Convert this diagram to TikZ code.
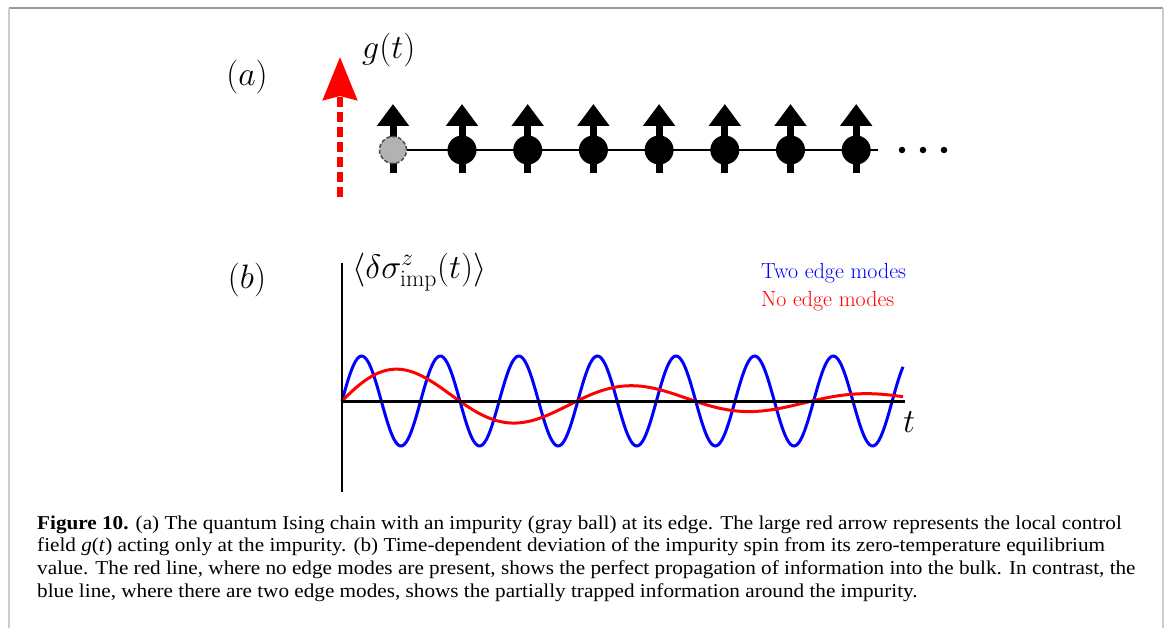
\RequirePackage{fix-cm}
\documentclass[tikz,border=0pt]{standalone}
\usepackage{fontspec}
\newfontfamily\capfont[FakeStretch=1.08]{Liberation Serif}
\usetikzlibrary{arrows.meta,positioning}

\begin{document}
\begin{tikzpicture}[x=1bp,y=-1bp,
    big label/.style={font=\fontsize{34}{40}\selectfont,inner sep=0pt},
    legend/.style={font=\fontsize{22}{26}\selectfont,anchor=base west,inner sep=0pt},
    spin ball/.style={circle,fill=black,minimum size=29bp,inner sep=0pt},
    impurity ball/.style={circle,fill=gray!60,draw=black!70,dash pattern=on 4bp off 2bp,line width=1.5bp,minimum size=27bp,inner sep=0pt},
    spin arrow/.style={line width=7bp,-{Triangle[width=31bp,length=22bp]}},
    field arrow/.style={red,line width=6bp,dash pattern=on 10bp off 5bp,-{Stealth[width=34bp,length=43bp,inset=4bp]}},
    chain/.style={line width=1.5bp},
    curve/.style={line width=3bp}]
  \useasboundingbox (0,0) rectangle (1166,628);
  % frame
  \draw[gray!80,line width=2bp] (9,8) -- (1163,8);
  \draw[gray!40,line width=2bp] (9,8) -- (9,628) (1163,8) -- (1163,628);

  % panel (a)
  \node[big label] (lab a) at (247,77) {$(a)$};
  \coordinate (field tail) at (340,197);
  \coordinate (field tip) at (340,57);
  \draw[field arrow] (field tail) -- (field tip);
  \node[big label,anchor=west] (g label) at (362,50) {$g(t)$};

  \foreach \n/\x in {0/393,1/462,2/527.7,3/593.4,4/659.1,5/724.8,6/790.5,7/856.2}{
    \coordinate (tail\n) at (\x,173);
    \coordinate (tip\n) at (\x,104);
    \draw[spin arrow] (tail\n) -- (tip\n);
  }
  \coordinate (chain end) at (878,150);
  \node[impurity ball] (s0) at (393,150) {};
  \draw[chain] (s0.east) -- (chain end);
  \foreach \n/\x in {1/462,2/527.7,3/593.4,4/659.1,5/724.8,6/790.5,7/856.2}
    \node[spin ball] (s\n) at (\x,150) {};
  \foreach \n/\x in {1/902,2/923,3/944}
    \node[circle,fill=black,minimum size=6.5bp,inner sep=0pt] (dot\n) at (\x,150) {};

  % panel (b)
  \node[big label] (lab b) at (247,280) {$(b)$};
  \coordinate (origin) at (342,401);
  \coordinate (y top) at (342,263);
  \coordinate (y bottom) at (342,492);
  \coordinate (x end) at (905,401);
  \draw[curve,blue] plot[domain=0:561,samples=300,smooth] ({342+\x},{401-45*sin(\x*4.58)});
  \draw[curve,red] plot[domain=0:561,samples=200,smooth] ({342+\x},{401-38*exp(-\x/320)*sin(\x*1.532)});
  \draw[line width=2bp] (y bottom) -- (y top);
  \draw[line width=3bp] (origin) -- (x end);
  \node[big label,anchor=west] (y label) at (352,272) {$\langle\delta\sigma^z_{\mathrm{imp}}(t)\rangle$};
  \node[big label] (t label) at (909,422) {$t$};
  \node[legend,blue] (leg two) at (761,279) {Two edge modes};
  \node[legend,red] (leg none) at (761,307) {No edge modes};

  % caption
  \node[anchor=base west,align=left,inner sep=0pt,font=\capfont\fontsize{19.7}{22.6}\selectfont] (caption) at (37,597)
    {\textbf{Figure 10.} (a) The quantum Ising chain with an impurity (gray ball) at its edge. The large red arrow represents the local control\\
     field \textit{g}(\textit{t}) acting only at the impurity. (b) Time-dependent deviation of the impurity spin from its zero-temperature equilibrium\\
     value. The red line, where no edge modes are present, shows the perfect propagation of information into the bulk. In contrast, the\\
     blue line, where there are two edge modes, shows the partially trapped information around the impurity.};
\end{tikzpicture}
\end{document}
